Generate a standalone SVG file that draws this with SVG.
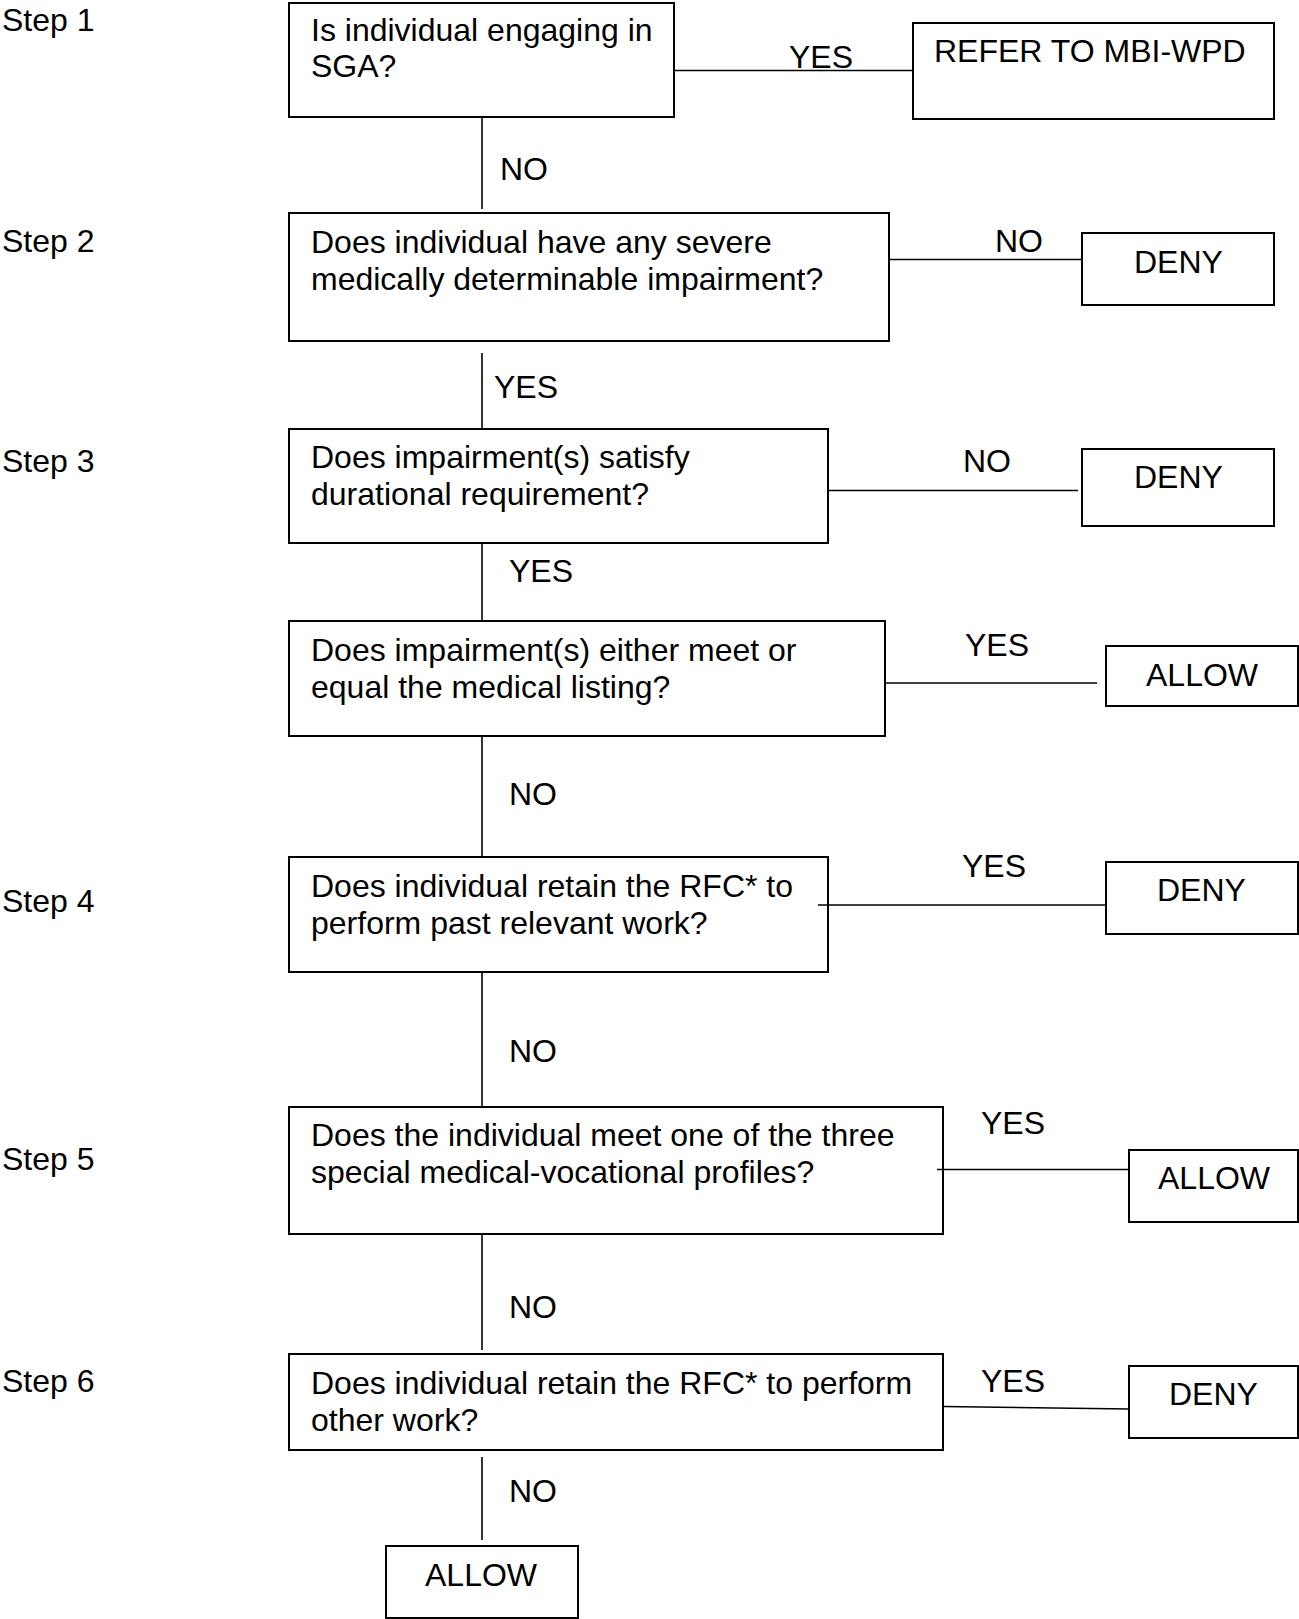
<svg xmlns="http://www.w3.org/2000/svg" width="1299" height="1619" viewBox="0 0 1299 1619">
<style>
text{font-family:"Liberation Sans",Arial,sans-serif;font-size:32px;fill:#000}
.box{fill:#fff;stroke:#000;stroke-width:2}
.c line,.c polyline{stroke:#000;stroke-width:1.6;fill:none}
</style>
<rect width="1299" height="1619" fill="#fff"/>
<g id="step-labels">
<text x="2" y="31">Step 1</text>
<text x="2" y="252">Step 2</text>
<text x="2" y="472">Step 3</text>
<text x="2" y="912">Step 4</text>
<text x="2" y="1170">Step 5</text>
<text x="2" y="1392">Step 6</text>
</g>
<g id="q1">
<rect class="box" x="289" y="3" width="385" height="114"/>
<text x="311"><tspan x="311" y="41">Is individual engaging in</tspan><tspan x="311" y="77">SGA?</tspan></text>
</g>
<g id="refer">
<rect class="box" x="913" y="23" width="361" height="96"/>
<text x="934" y="62">REFER TO MBI-WPD</text>
</g>
<g id="q2">
<rect class="box" x="289" y="213" width="600" height="128"/>
<text x="311"><tspan x="311" y="253">Does individual have any severe</tspan><tspan x="311" y="290">medically determinable impairment?</tspan></text>
</g>
<g id="deny2">
<rect class="box" x="1082" y="233" width="192" height="72"/>
<text x="1134" y="273">DENY</text>
</g>
<g id="q3">
<rect class="box" x="289" y="429" width="539" height="114"/>
<text x="311"><tspan x="311" y="468">Does impairment(s) satisfy</tspan><tspan x="311" y="505">durational requirement?</tspan></text>
</g>
<g id="deny3">
<rect class="box" x="1082" y="449" width="192" height="77"/>
<text x="1134" y="488">DENY</text>
</g>
<g id="q3b">
<rect class="box" x="289" y="621" width="596" height="115"/>
<text x="311"><tspan x="311" y="661">Does impairment(s) either meet or</tspan><tspan x="311" y="698">equal the medical listing?</tspan></text>
</g>
<g id="allow3">
<rect class="box" x="1106" y="646" width="192" height="60"/>
<text x="1146" y="686">ALLOW</text>
</g>
<g id="q4">
<rect class="box" x="289" y="857" width="539" height="115"/>
<text x="311"><tspan x="311" y="897">Does individual retain the RFC* to</tspan><tspan x="311" y="934">perform past relevant work?</tspan></text>
</g>
<g id="deny4">
<rect class="box" x="1106" y="862" width="192" height="72"/>
<text x="1157" y="901">DENY</text>
</g>
<g id="q5">
<rect class="box" x="289" y="1107" width="654" height="127"/>
<text x="311"><tspan x="311" y="1146">Does the individual meet one of the three</tspan><tspan x="311" y="1183">special medical-vocational profiles?</tspan></text>
</g>
<g id="allow5">
<rect class="box" x="1129" y="1150" width="169" height="72"/>
<text x="1158" y="1189">ALLOW</text>
</g>
<g id="q6">
<rect class="box" x="289" y="1354" width="654" height="96"/>
<text x="311"><tspan x="311" y="1394">Does individual retain the RFC* to perform</tspan><tspan x="311" y="1431">other work?</tspan></text>
</g>
<g id="deny6">
<rect class="box" x="1129" y="1366" width="169" height="72"/>
<text x="1169" y="1405">DENY</text>
</g>
<g id="allow-final">
<rect class="box" x="386" y="1546" width="192" height="72"/>
<text x="425" y="1586">ALLOW</text>
</g>
<g class="c" id="connectors">
<line x1="674" y1="70.5" x2="913" y2="70.5"/>
<line x1="482" y1="116" x2="482" y2="209"/>
<line x1="889" y1="259.5" x2="1082" y2="259.5"/>
<line x1="482" y1="353" x2="482" y2="430"/>
<line x1="828" y1="490.5" x2="1078" y2="490.5"/>
<line x1="482" y1="543" x2="482" y2="621"/>
<line x1="885" y1="683" x2="1097" y2="683"/>
<line x1="482" y1="736" x2="482" y2="857"/>
<line x1="818" y1="905" x2="1106" y2="905"/>
<line x1="482" y1="972" x2="482" y2="1107"/>
<line x1="937" y1="1169.5" x2="1129" y2="1169.5"/>
<line x1="482" y1="1234" x2="482" y2="1350"/>
<line x1="943" y1="1406.5" x2="1129" y2="1409"/>
<line x1="482" y1="1457" x2="482" y2="1540"/>
<text x="789" y="68">YES</text>
<text x="500" y="180">NO</text>
<text x="995" y="252">NO</text>
<text x="494" y="398">YES</text>
<text x="963" y="472">NO</text>
<text x="509" y="582">YES</text>
<text x="965" y="656">YES</text>
<text x="509" y="805">NO</text>
<text x="962" y="877">YES</text>
<text x="509" y="1062">NO</text>
<text x="981" y="1134">YES</text>
<text x="509" y="1318">NO</text>
<text x="981" y="1392">YES</text>
<text x="509" y="1502">NO</text>
</g>
</svg>
